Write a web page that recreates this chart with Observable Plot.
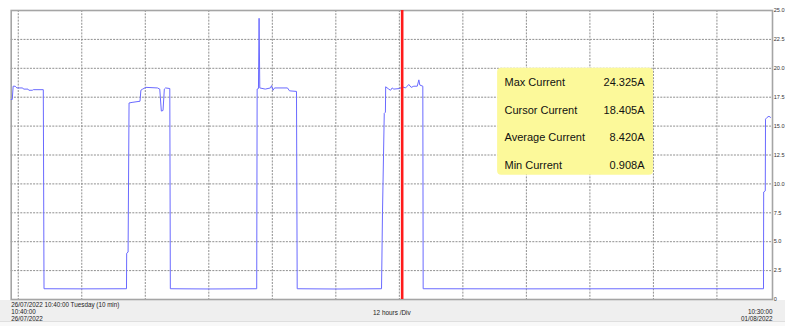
<!DOCTYPE html>
<html><head><meta charset="utf-8">
<script src="https://cdn.jsdelivr.net/npm/d3@7"></script>
<script src="https://cdn.jsdelivr.net/npm/@observablehq/plot@0.6"></script>
<style>
html,body{margin:0;padding:0;background:#fff;}
#chart svg{display:block;}
</style></head><body><div id="chart"></div>
<script>
// ---- data ----
const times = [
"2022-07-26 10:40","2022-07-26 10:52","2022-07-26 11:02","2022-07-26 11:25","2022-07-26 11:45",
"2022-07-26 12:50","2022-07-26 13:00","2022-07-26 13:50","2022-07-26 14:00","2022-07-26 14:40",
"2022-07-26 14:50","2022-07-26 16:44","2022-07-26 16:52","2022-07-27 00:00","2022-07-27 08:27",
"2022-07-27 08:29","2022-07-27 08:45","2022-07-27 08:56","2022-07-27 09:30","2022-07-27 11:00",
"2022-07-27 11:10","2022-07-27 11:30","2022-07-27 12:08","2022-07-27 14:18","2022-07-27 14:44",
"2022-07-27 15:02","2022-07-27 15:21","2022-07-27 15:36","2022-07-27 15:50","2022-07-27 16:38",
"2022-07-27 16:44","2022-07-28 00:00","2022-07-28 09:03",
"2022-07-28 09:08","2022-07-28 09:23","2022-07-28 09:30","2022-07-28 09:38","2022-07-28 10:40",
"2022-07-28 11:39","2022-07-28 11:51","2022-07-28 12:08","2022-07-28 12:25","2022-07-28 14:52",
"2022-07-28 15:15","2022-07-28 16:34","2022-07-28 16:42","2022-07-29 00:00","2022-07-29 08:38",
"2022-07-29 08:49","2022-07-29 09:09","2022-07-29 09:22","2022-07-29 09:25","2022-07-29 10:00",
"2022-07-29 10:20","2022-07-29 10:39","2022-07-29 10:57","2022-07-29 12:05","2022-07-29 12:32",
"2022-07-29 13:10","2022-07-29 13:29","2022-07-29 13:47","2022-07-29 14:14","2022-07-29 14:44",
"2022-07-29 15:23","2022-07-29 15:41","2022-07-29 15:52","2022-07-29 16:26","2022-07-29 16:30",
"2022-07-30 12:00","2022-07-31 12:00","2022-08-01 08:48",
"2022-08-01 08:50","2022-08-01 09:08","2022-08-01 09:11","2022-08-01 09:28","2022-08-01 09:50",
"2022-08-01 10:08"
];
const amps = [
17.3,17.3,18.45,18.45,18.3,
18.3,18.2,18.2,18.1,18.1,
18.15,18.15,0.93,0.92,0.93,
4.0,4.1,17.0,17.05,17.15,
18.1,18.2,18.35,18.3,18.2,
16.3,16.35,18.2,18.3,18.25,
0.93,0.91,0.93,
18.2,18.25,24.325,18.3,18.2,
18.3,18.5,18.1,18.3,18.3,
18.05,18.0,0.93,0.908,0.93,
7.5,16.1,16.2,18.4,18.2,
18.1,18.3,18.2,18.25,18.405,
18.3,18.45,18.6,18.35,18.45,
18.45,19.0,18.55,18.45,0.93,
0.92,0.93,0.93,
9.3,9.4,15.6,15.75,15.85,
15.75
];
const yTicks = [0,2.5,5,7.5,10,12.5,15,17.5,20,22.5,25];
const yTickLabels = ["0","2.5","5.0","7.5","10.0","12.5","15.0","17.5","20.0","22.5","25.0"];
const gridTimes = ["2022-07-26 12:00","2022-07-27 00:00","2022-07-27 12:00","2022-07-28 00:00",
"2022-07-28 12:00","2022-07-29 00:00","2022-07-29 12:00","2022-07-30 00:00","2022-07-30 12:00",
"2022-07-31 00:00","2022-07-31 12:00","2022-08-01 00:00"];
const startTime = "2022-07-26 10:40";
const endTime = "2022-08-01 10:30";
const cursorTime = "2022-07-29 12:32";
const statLabels = ["Max Current","Cursor Current","Average Current","Min Current"];
const statValues = ["24.325A","18.405A","8.420A","0.908A"];
const headerText = "26/07/2022 10:40:00 Tuesday (10 min)";
const divText = "12 hours /Div";
const startLabels = ["10:40:00","26/07/2022"];
const endLabels = ["10:30:00","01/08/2022"];

// ---- build ----
const parse = d3.utcParse("%Y-%m-%d %H:%M");
const t0 = parse(startTime), t1 = parse(endTime);
const hrs = h => new Date(+t0 + h * 3600e3);
const data = times.map((t, i) => ({t: parse(t), a: amps[i]}));
const grid = gridTimes.map(parse);
const cursor = parse(cursorTime);
const font = "'Liberation Sans', Arial, sans-serif";

const strip = (index, scales, values, dim) => {
  const g = d3.create("svg:g");
  const top = dim.height - dim.marginBottom + 1;
  g.append("rect").attr("x", 0).attr("y", top).attr("width", dim.width).attr("height", dim.marginBottom).attr("fill", "#efefef");
  g.append("rect").attr("x", 0).attr("y", dim.height - 4.5).attr("width", dim.width).attr("height", 4.5).attr("fill", "#f8f8f8");
  g.append("line").attr("x1", 0).attr("x2", dim.width).attr("y1", dim.height - 4.5).attr("y2", dim.height - 4.5).attr("stroke", "#dedede");
  return g.node();
};

const boxRow = (d, i) => 18.8 - i * 2.405;

const chart = Plot.plot({
  width: 785, height: 326,
  marginLeft: 10.7, marginRight: 13, marginTop: 10, marginBottom: 27,
  style: {fontFamily: font, background: "white", overflow: "visible"},
  x: {type: "utc", domain: [t0, t1], axis: null},
  y: {domain: [0, 25], axis: null},
  marks: [
    strip,
    Plot.ruleY(yTicks.slice(1, -1), {stroke: "#8f8f8f", strokeDasharray: "2,1.2", strokeWidth: 1}),
    Plot.ruleX(grid, {stroke: "#8f8f8f", strokeDasharray: "2,1.2", strokeWidth: 1}),
    Plot.frame({stroke: "#a5a5a5", strokeWidth: 1.6}),
    Plot.line(data, {x: "t", y: "a", stroke: "#6a6aff", strokeWidth: 1}),
    Plot.ruleX([cursor], {stroke: "#ff1a1a", strokeWidth: 2.6}),
    Plot.rect([0], {x1: () => hrs(91.9), x2: () => hrs(121.35), y1: () => 10.75, y2: () => 20.0, rx: 4, fill: "#fcf99a"}),
    Plot.text(statLabels, {x: () => hrs(93.2), y: boxRow, text: d => d, textAnchor: "start", fontSize: 11, fill: "#111"}),
    Plot.text(statValues, {x: () => hrs(119.65), y: boxRow, text: d => d, textAnchor: "end", fontSize: 11, fill: "#111"}),
    Plot.axisY(yTicks, {anchor: "right", tickSize: 0, tickPadding: 1.2, fontSize: 5.6, fill: "#333",
      tickFormat: v => yTickLabels[yTicks.indexOf(v)], label: null}),
    Plot.text([t0], {x: d => d, text: () => headerText, frameAnchor: "bottom", textAnchor: "start", lineAnchor: "middle", dy: 5, fontSize: 6.3, fill: "#222"}),
    Plot.text([t0], {x: d => d, text: () => startLabels[0], frameAnchor: "bottom", textAnchor: "start", lineAnchor: "middle", dy: 12.5, fontSize: 6.3, fill: "#222"}),
    Plot.text([t0], {x: d => d, text: () => startLabels[1], frameAnchor: "bottom", textAnchor: "start", lineAnchor: "middle", dy: 19, fontSize: 6.3, fill: "#222"}),
    Plot.text([t1], {x: d => d, text: () => endLabels[0], frameAnchor: "bottom", textAnchor: "end", lineAnchor: "middle", dy: 12.5, fontSize: 6.3, fill: "#222"}),
    Plot.text([t1], {x: d => d, text: () => endLabels[1], frameAnchor: "bottom", textAnchor: "end", lineAnchor: "middle", dy: 19, fontSize: 6.3, fill: "#222"}),
    Plot.text([divText], {text: d => d, frameAnchor: "bottom", lineAnchor: "middle", dy: 13.5, fontSize: 6.4, fill: "#222"})
  ]
});
document.getElementById("chart").appendChild(chart);
</script>
</body></html>
